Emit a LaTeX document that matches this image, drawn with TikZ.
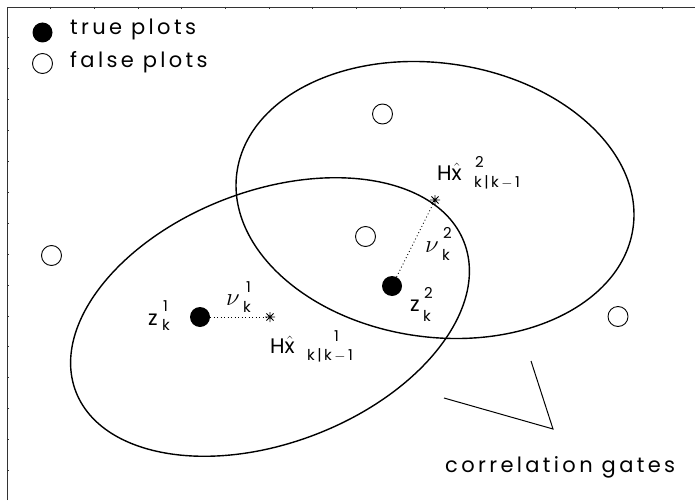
\documentclass[tikz,border=0pt]{standalone}
\usepackage{amsmath}
\usepackage{fontspec}
\setmainfont{Poppins}[LetterSpace=16]
\begin{document}
\begin{tikzpicture}[x=1pt,y=-1pt,
  frame/.style={line width=0.9pt, black!80},
  gate/.style={line width=1.4pt},
  trueplot/.style={circle, fill=black, minimum size=20pt, inner sep=0pt},
  falseplot/.style={circle, draw, line width=0.9pt, minimum size=20pt, inner sep=0pt},
  lbl/.style={font=\fontsize{21}{25}\selectfont, inner sep=0pt, anchor=base west},
  scr/.style={font=\fontsize{15}{18}\selectfont, inner sep=0pt, anchor=base west},
  greek/.style={font=\fontsize{28}{30}\selectfont, inner sep=0pt, anchor=base west},
  resid/.style={line width=0.9pt, dash pattern=on 0.9pt off 2.6pt},
  starmark/.style={line width=0.9pt},
  pointer/.style={line width=1pt}]
\useasboundingbox (0,0) rectangle (695,500);
\fill[white] (0,0) rectangle (695,500);
% frame and ticks
\draw[frame] (7,500) -- (7,7) -- (695,7);
\foreach \i in {1,...,15} \draw[frame] ({7+43.7*\i},7) -- ++(0,2);
\foreach \i in {1,...,15} \draw[frame] (7,{7+30.9*\i}) -- ++(2,0);
% legend
\node[trueplot] (legt) at (42.5,32.5) {};
\node[falseplot] (legf) at (42.5,63.5) {};
\node[lbl] (legtt) at (70,35) {true plots};
\node[lbl] (legft) at (70,68) {false plots};
% predicted measurements (gate centres)
\coordinate (s1) at (270,317);
\coordinate (s2) at (435,200);
% gates
\draw[gate, rotate around={21:(s1)}] (s1) ellipse [x radius=208pt, y radius=126pt];
\draw[gate, rotate around={-8:(s2)}] (s2) ellipse [x radius=200pt, y radius=137pt];
% plots
\node[falseplot] (f1) at (51.5,255.5) {};
\node[falseplot] (f2) at (382.5,114) {};
\node[falseplot] (f3) at (365.5,236.5) {};
\node[falseplot] (f4) at (618,316.5) {};
\node[trueplot] (z1) at (200,317) {};
\node[trueplot] (z2) at (392,286) {};
% residuals
\draw[resid] (z1) -- (s1);
\draw[resid] (z2) -- (s2);
% star marks
\foreach \s in {s1,s2}
  \draw[starmark] (\s) ++(-5,0) -- ++(10,0) (\s) ++(0,-5) -- ++(0,10)
    (\s) ++(-3.6,-3.6) -- ++(7.2,7.2) (\s) ++(-3.6,3.6) -- ++(7.2,-7.2);
% labels z1
\node[lbl] (z1b) at (148,325) {z};
\node[scr] (z1p) at (163,311) {1};
\node[scr] (z1s) at (162,330) {k};
% nu1
\node[greek] (n1b) at (226,305) {$\nu$};
\node[scr] (n1p) at (246,292) {1};
\node[scr] (n1s) at (243,312) {k};
% Hx1
\node[lbl] (h1b) at (270,353) {H$\hat{\text{x}}$};
\node[scr] (h1p) at (334,341) {1};
\node[scr] (h1s) at (307,360) {k|k\,$-$\,1};
% Hx2
\node[lbl] (h2b) at (437,180) {H$\hat{\text{x}}$};
\node[scr] (h2p) at (475,167) {2};
\node[scr] (h2s) at (474,187) {k|k\,$-$\,1};
% nu2
\node[greek] (n2b) at (425,252) {$\nu$};
\node[scr] (n2p) at (443,238) {2};
\node[scr] (n2s) at (442,260) {k};
% z2
\node[lbl] (z2b) at (410,311) {z};
\node[scr] (z2p) at (424,298) {2};
\node[scr] (z2s) at (423,321) {k};
% correlation gates
\coordinate (g1) at (444,398);
\coordinate (gv) at (553,429);
\coordinate (g2) at (531,361);
\draw[pointer] (g1) -- (gv) -- (g2);
\node[lbl] (cg) at (445,472) {correlation gates};
\end{tikzpicture}
\end{document}
